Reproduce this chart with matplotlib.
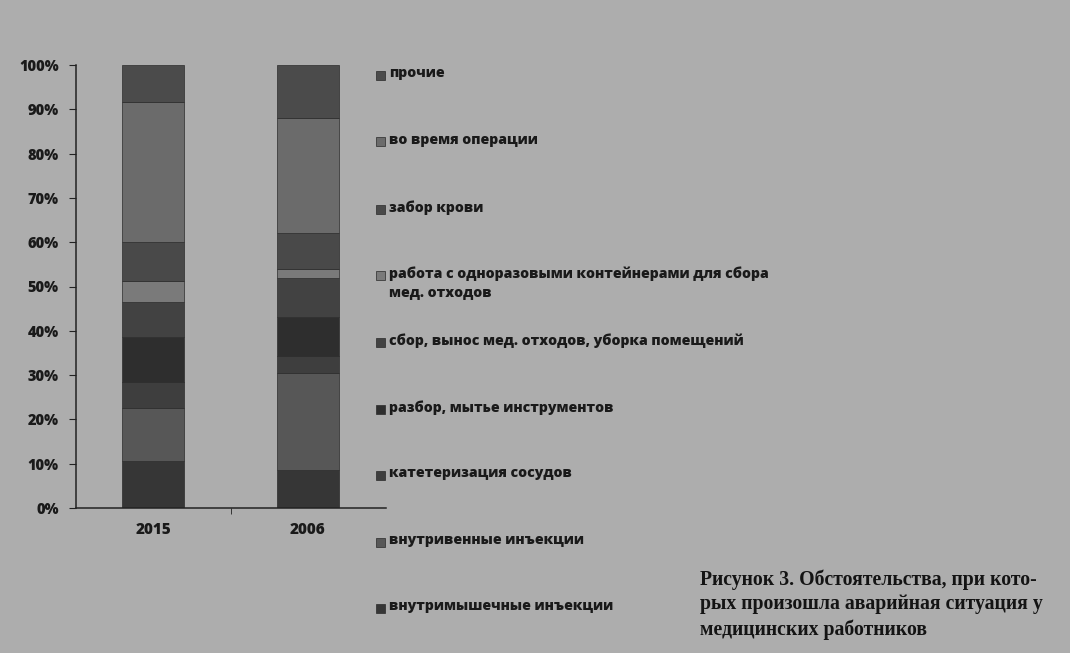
import matplotlib
matplotlib.use("Agg")
import matplotlib.pyplot as plt
from matplotlib.patches import Rectangle
import numpy as np

years = ["2015", "2006"]
categories = [
    "внутримышечные инъекции",
    "внутривенные инъекции",
    "катетеризация сосудов",
    "разбор, мытье инструментов",
    "сбор, вынос мед. отходов, уборка помещений",
    "работа с одноразовыми контейнерами для сбора\nмед. отходов",
    "забор крови",
    "во время операции",
    "прочие",
]
share_2015 = [10.5, 12.0, 6.0, 10.2, 7.7, 4.8, 8.9, 31.6, 8.3]
share_2006 = [8.6, 21.8, 4.0, 8.8, 8.8, 2.0, 8.1, 25.9, 12.0]
colors = ["#363636", "#575757", "#3e3e3e", "#2e2e2e", "#424242",
          "#7a7a7a", "#494949", "#6b6b6b", "#4b4b4b"]
caption = ("Рисунок 3. Обстоятельства, при кото-\n"
           "рых произошла аварийная ситуация у\n"
           "медицинских работников")

W, H = 1070, 653
bg = "#adadad"
fig = plt.figure(figsize=(W / 100, H / 100), dpi=100, facecolor=bg)

# axes placed in pixel terms
left, right, bottom, top = 75.5, 385.5, 508, 65
ax = fig.add_axes([left / W, 1 - bottom / H, (right - left) / W, (bottom - top) / H])
ax.set_facecolor(bg)

x = np.arange(len(years))
data = np.array([share_2015, share_2006])
base = np.zeros(len(years))
for i, c in enumerate(categories):
    ax.bar(x, data[:, i], bottom=base, width=0.4, color=colors[i],
           edgecolor="#2c2c2c", linewidth=0.5)
    base += data[:, i]

ax.set_xlim(-0.5, 1.5)
ax.set_ylim(0, 100)
ax.set_yticks(np.arange(0, 101, 10))
ax.set_yticklabels([f"{v}%" for v in range(0, 101, 10)])
ax.set_xticks(x)
ax.set_xticklabels(years)
ax.set_xticks([0.5], minor=True)
ax.tick_params(axis="x", which="major", length=0, pad=10)
ax.tick_params(axis="x", which="minor", length=4, color="#222222", direction="out")
ax.tick_params(axis="y", length=5, color="#222222", pad=7)
for lab in ax.get_xticklabels():
    lab.set_fontsize(11)
for lab in ax.get_yticklabels():
    lab.set_fontsize(10.5)
for lab in ax.get_xticklabels() + ax.get_yticklabels():
    lab.set_fontfamily("Open Sans")
    lab.set_fontweight("heavy")
    lab.set_color("#1a1a1a")
for s in ["top", "right"]:
    ax.spines[s].set_visible(False)
for s in ["left", "bottom"]:
    ax.spines[s].set_color("#222222")
    ax.spines[s].set_linewidth(1.1)

# legend column, top entry first
leg_y = [75, 142, 209, 275, 342, 409, 475, 542, 608]
for yy, lab, col in zip(leg_y, categories[::-1], colors[::-1]):
    fig.patches.append(Rectangle((376 / W, 1 - (yy + 4.5) / H), 9 / W, 9 / H,
                                 transform=fig.transFigure, facecolor=col,
                                 edgecolor="#2a2a2a", linewidth=0.5))
    fig.text(389 / W, 1 - (yy - 9) / H, lab, ha="left", va="top",
             fontfamily="Open Sans", fontweight="heavy", fontsize=10.2,
             color="#1a1a1a", linespacing=1.42)

fig.text(700 / W, 1 - 569 / H, caption, ha="left", va="top",
         fontfamily="Liberation Serif", fontweight="bold", fontsize=14.2,
         color="#141414", linespacing=1.32)

fig.savefig("out.png", dpi=100, facecolor=bg)
